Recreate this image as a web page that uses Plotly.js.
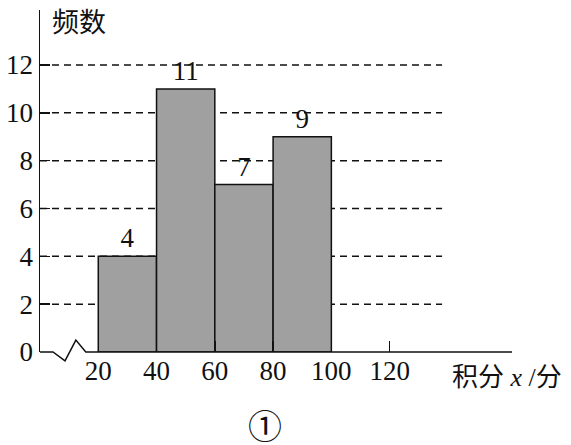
<!DOCTYPE html>
<html>
<head>
<meta charset="utf-8">
<script src="https://cdn.plot.ly/plotly-3.0.1.min.js"></script>
<style>html,body{margin:0;padding:0;background:#fff;}#chart{width:571px;height:445px;}</style>
</head>
<body>
<div id="chart"></div>
<script>
const binCenters = [30, 50, 70, 90];
const frequencies = [4, 11, 7, 9];
const binWidth = 20;
const xTickVals = [20, 40, 60, 80, 100, 120];
const yTickVals = [0, 2, 4, 6, 8, 10, 12];
const gridVals = [2, 4, 6, 8, 10, 12];
const yTitle = '频数';
const xTitle = '积分 <i>x</i> /分';
const figLabel = '①';

const serif = 'Liberation Serif';
const cjk = 'Liberation Serif, Noto Sans CJK SC';

const shapes = gridVals.map(v => ({
  type: 'line', xref: 'x', yref: 'y', x0: 0, x1: 138, y0: v, y1: v,
  line: {color: '#111', width: 1.5, dash: '7px,5px'}, layer: 'below'
}));
// x-axis line with break (zigzag), paper coordinates
shapes.push({
  type: 'path', xref: 'paper', yref: 'paper',
  path: 'M 0 0 L 0.0275 0 L 0.053 -0.026 L 0.076 0.035 L 0.097 0 L 1 0',
  line: {color: '#111', width: 1.5}
});

const trace = {
  type: 'bar', x: binCenters, y: frequencies, width: binWidth,
  marker: {color: '#a0a0a0', line: {color: '#111', width: 1.5}},
  text: frequencies.map(String), textposition: 'outside',
  textfont: {family: serif, size: 27, color: '#111'},
  cliponaxis: false, hoverinfo: 'none'
};

const layout = {
  width: 571, height: 445,
  margin: {l: 40, r: 59, t: 10, b: 93},
  paper_bgcolor: '#fff', plot_bgcolor: '#fff',
  showlegend: false,
  bargap: 0,
  font: {family: serif},
  xaxis: {
    range: [0, 162], tickvals: xTickVals, ticktext: xTickVals.map(String),
    ticks: 'inside', ticklen: 11, tickwidth: 1.5, tickcolor: '#111',
    showline: false, showgrid: false, zeroline: false,
    tickfont: {family: serif, size: 27, color: '#111'}, fixedrange: true
  },
  yaxis: {
    range: [0, 14.3], tickvals: yTickVals, ticktext: yTickVals.map(String),
    ticks: 'inside', ticklen: 10, tickwidth: 1.5, tickcolor: '#111',
    showline: true, linecolor: '#111', linewidth: 1.5,
    showgrid: false, zeroline: false,
    tickfont: {family: serif, size: 27, color: '#111'}, fixedrange: true
  },
  shapes: shapes,
  annotations: [
    {text: yTitle, xref: 'paper', yref: 'paper', x: 0.083, y: 0.962, xanchor: 'center', yanchor: 'middle',
     showarrow: false, font: {family: cjk, size: 27, color: '#111'}},
    {text: xTitle, xref: 'paper', yref: 'paper', x: 1.11, y: -0.074, xanchor: 'right', yanchor: 'middle',
     showarrow: false, font: {family: cjk, size: 26, color: '#111'}},
    {text: figLabel, xref: 'paper', yref: 'paper', x: 0.477, y: -0.222, xanchor: 'center', yanchor: 'middle',
     showarrow: false, font: {family: cjk, size: 34, color: '#111'}}
  ]
};

Plotly.newPlot('chart', [trace], layout, {displayModeBar: false, staticPlot: true});
</script>
</body>
</html>
